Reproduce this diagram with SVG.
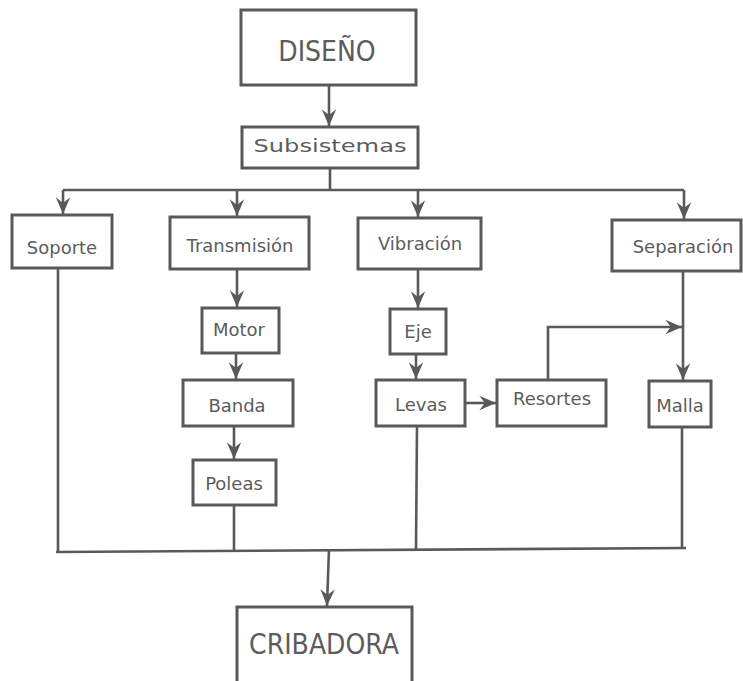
<svg xmlns="http://www.w3.org/2000/svg" width="743" height="681" viewBox="0 0 743 681">
<defs>
<marker id="ah" markerUnits="userSpaceOnUse" markerWidth="20" markerHeight="20" viewBox="-16 -8 18 16" refX="0" refY="0" orient="auto">
<path d="M0,0 L-15,-6.5 L-10,0 L-15,6.5 Z" fill="#595959"/>
</marker>
</defs>
<style>
rect{fill:#fff;stroke:#595959;stroke-width:3}
.c{fill:none;stroke:#595959;stroke-width:2.6}
.a{marker-end:url(#ah)}
text{font-family:"DejaVu Sans",Verdana,sans-serif;font-size:18px;fill:#5c5c5c;text-anchor:middle}
.big{font-family:"DejaVu Sans Condensed","DejaVu Sans",sans-serif;font-size:28px}
</style>
<g id="connectors">
<path class="c a" d="M329,85 V126"/>
<path class="c" d="M330,168 V190"/>
<path class="c" d="M63,190 H684"/>
<path class="c a" d="M63,190 V214"/>
<path class="c a" d="M237,190 V216"/>
<path class="c a" d="M418,190 V217"/>
<path class="c a" d="M684,190 V219"/>
<path class="c a" d="M237,269 V307"/>
<path class="c a" d="M236,353 V379"/>
<path class="c a" d="M234,426 V459"/>
<path class="c a" d="M418,269 V308"/>
<path class="c a" d="M416,354 V379"/>
<path class="c a" d="M465,403 H496"/>
<path class="c a" d="M548,380 V327 H682"/>
<path class="c a" d="M683,271 V380"/>
<path class="c" d="M58,268 V552"/>
<path class="c" d="M234,505 V551"/>
<path class="c" d="M417,426 L416,549"/>
<path class="c" d="M682,427 V548"/>
<path class="c" d="M56,552 L686,548"/>
<path class="c a" d="M329,549 L327,606"/>
</g>
<g id="diseno"><rect x="241" y="10" width="175" height="75"/><text class="big" x="327" y="61">DISEÑO</text></g>
<g id="subsistemas"><rect x="242" y="127" width="176" height="41"/><text x="330" y="152" font-size="20" textLength="153" lengthAdjust="spacingAndGlyphs">Subsistemas</text></g>
<g id="soporte"><rect x="12" y="215" width="100" height="53"/><text x="62" y="254">Soporte</text></g>
<g id="transmision"><rect x="170" y="217" width="139" height="52"/><text x="240" y="252">Transmisión</text></g>
<g id="vibracion"><rect x="358" y="218" width="123" height="51"/><text x="420" y="250">Vibración</text></g>
<g id="separacion"><rect x="612" y="220" width="129" height="51"/><text x="683" y="253">Separación</text></g>
<g id="motor"><rect x="202" y="308" width="77" height="45"/><text x="239" y="336">Motor</text></g>
<g id="banda"><rect x="183" y="380" width="110" height="46"/><text x="237" y="412">Banda</text></g>
<g id="poleas"><rect x="193" y="460" width="83" height="45"/><text x="234" y="490">Poleas</text></g>
<g id="eje"><rect x="390" y="309" width="56" height="45"/><text x="418" y="338">Eje</text></g>
<g id="levas"><rect x="376" y="380" width="89" height="46"/><text x="421" y="411">Levas</text></g>
<g id="resortes"><rect x="497" y="380" width="109" height="46"/><text x="552" y="405">Resortes</text></g>
<g id="malla"><rect x="649" y="381" width="62" height="46"/><text x="680" y="412">Malla</text></g>
<g id="cribadora"><rect x="237" y="607" width="175" height="80"/><text class="big" x="324" y="654" font-size="27">CRIBADORA</text></g>
</svg>
